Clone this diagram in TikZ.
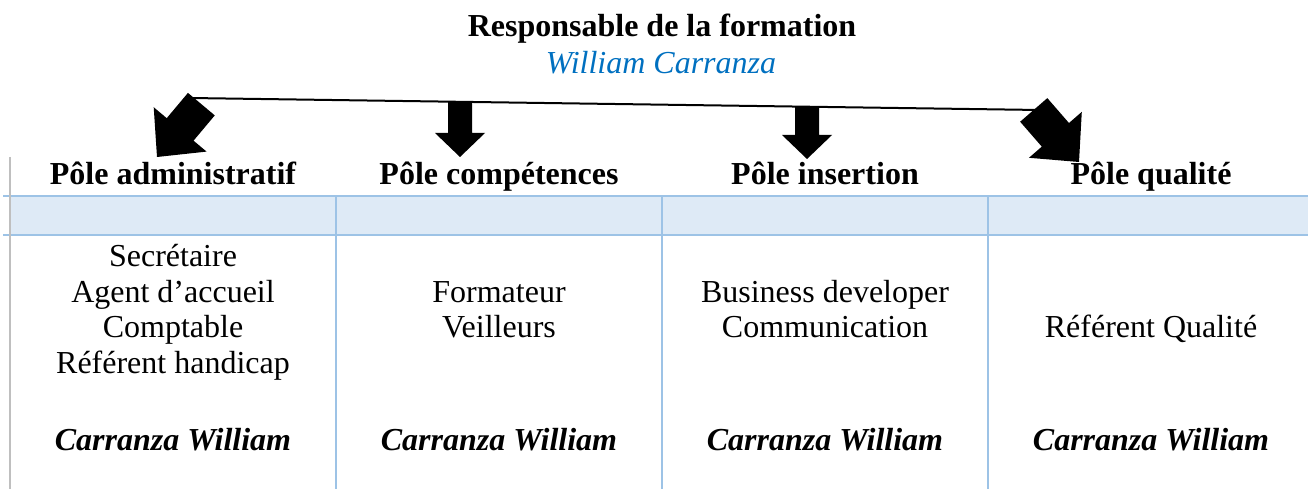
\documentclass[tikz,border=0pt]{standalone}
\usepackage{fontspec}
\setmainfont{Liberation Serif}
\usetikzlibrary{positioning}

\definecolor{tabline}{HTML}{9DC3E6}
\definecolor{tabfill}{HTML}{DEEAF6}
\definecolor{namecol}{HTML}{0070C0}
\definecolor{sidegray}{HTML}{BFBFBF}

\tikzset{
  txt/.style={font=\fontsize{32}{36}\selectfont, anchor=base, inner sep=0pt},
  hdr/.style={txt, font=\fontsize{32}{36}\selectfont\bfseries},
  who/.style={txt, font=\fontsize{32}{36}\selectfont\bfseries\itshape},
  pics/blockarrow/.style n args={4}{code={
    % length, head length, shaft width, head width
    \fill (0,0) -- (-#2,#4/2) -- (-#2,#3/2) -- (-#1,#3/2)
      -- (-#1,-#3/2) -- (-#2,-#3/2) -- (-#2,-#4/2) -- cycle;
  }}
}

\begin{document}
\begin{tikzpicture}[x=1pt,y=-1pt]
    \useasboundingbox (0,0) rectangle (1308,489);

    % top
    \node[hdr] (resp) at (662,37) {Responsable de la formation};
    \node[txt, text=namecol, font=\fontsize{32}{36}\selectfont\itshape] (chef) at (661,74) {William Carranza};

    % table
    \fill[tabfill] (10,196) rectangle (1308,235);
    \draw[tabline, line width=2.5pt] (3,196) -- (1308,196);
    \draw[tabline, line width=2pt] (3,235) -- (1308,235);
    \foreach \x in {336,662,988}
        \draw[tabline, line width=1.5pt] (\x,196) -- (\x,489);
    \draw[sidegray, line width=2pt] (10,157) -- (10,489);

    \node[hdr] (admin) at (173,185) {Pôle administratif};
    \node[hdr] (comp) at (499,185) {Pôle compétences};
    \node[hdr] (ins) at (825,185) {Pôle insertion};
    \node[hdr] (qual) at (1151,185) {Pôle qualité};

    \node[txt] (sec) at (173,266) {Secrétaire};
    \node[txt] (acc) at (173,302) {Agent d’accueil};
    \node[txt] (compta) at (173,337) {Comptable};
    \node[txt] (handi) at (173,373) {Référent handicap};
    \node[txt] (form) at (499,302) {Formateur};
    \node[txt] (veil) at (499,337) {Veilleurs};
    \node[txt] (biz) at (825,302) {Business developer};
    \node[txt] (comm) at (825,337) {Communication};
    \node[txt] (refq) at (1151,337) {Référent Qualité};

    \node[who] (w1) at (173,450) {Carranza William};
    \node[who] (w2) at (499,450) {Carranza William};
    \node[who] (w3) at (825,450) {Carranza William};
    \node[who] (w4) at (1151,450) {Carranza William};

    % arrows
    \coordinate (lineL) at (190,98);
    \coordinate (lineR) at (1040,110);
    \draw[line width=2pt] (lineL) -- (lineR);
    \pic[rotate=-130] at (157,157) {blockarrow={69}{36}{35}{69}};
    \pic[rotate=-90] at (460,157) {blockarrow={55}{24}{24}{50}};
    \pic[rotate=-90] at (807,159) {blockarrow={52}{24}{24}{50}};
    \pic[rotate=-49] at (1079,162) {blockarrow={69}{36}{36}{70}};
\end{tikzpicture}
\end{document}
